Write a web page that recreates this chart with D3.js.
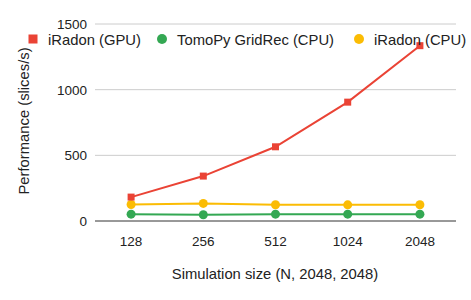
<!DOCTYPE html>
<html>
<head>
<meta charset="utf-8">
<script src="https://cdn.jsdelivr.net/npm/d3@7"></script>
<style>
  body { margin: 0; background: #fff; }
  text { font-family: "Liberation Sans", Arial, sans-serif; }
</style>
</head>
<body>
<svg id="chart" width="471" height="300"></svg>
<script>
// data
const sizes = ['128', '256', '512', '1024', '2048'];
const iradonGPU = [182, 342, 565, 905, 1335];
const tomopyCPU = [52, 48, 52, 52, 52];
const iradonCPU = [126, 134, 124, 123, 124];
const yTicks = [0, 500, 1000, 1500];

const series = [
  { name: 'iRadon (GPU)', values: iradonGPU, color: '#ea4335', shape: 'square' },
  { name: 'TomoPy GridRec (CPU)', values: tomopyCPU, color: '#34a853', shape: 'circle' },
  { name: 'iRadon (CPU)', values: iradonCPU, color: '#fbbc04', shape: 'circle' }
];

const svg = d3.select('#chart');
const plotL = 95, plotR = 456, plotT = 24, plotB = 221;

const x = d3.scaleBand().domain(sizes).range([plotL, plotR]);
const y = d3.scaleLinear().domain([0, 1500]).range([plotB, plotT]);

// gridlines
svg.append('g').selectAll('line')
  .data(yTicks.filter(d => d > 0)).enter()
  .append('line')
  .attr('x1', plotL).attr('x2', plotR)
  .attr('y1', d => y(d)).attr('y2', d => y(d))
  .attr('stroke', '#cccccc').attr('stroke-width', 1);

// y tick labels
svg.append('g').selectAll('text')
  .data(yTicks).enter()
  .append('text')
  .attr('x', 87).attr('y', d => y(d) + 5)
  .attr('text-anchor', 'end')
  .attr('font-size', 13.5).attr('fill', '#222')
  .text(d => d);

// baseline
svg.append('line')
  .attr('x1', plotL).attr('x2', plotR)
  .attr('y1', y(0)).attr('y2', y(0))
  .attr('stroke', '#333').attr('stroke-width', 1);

// x tick labels
svg.append('g').selectAll('text')
  .data(sizes).enter()
  .append('text')
  .attr('x', d => x(d) + x.bandwidth() / 2).attr('y', 246)
  .attr('text-anchor', 'middle')
  .attr('font-size', 13.5).attr('fill', '#222')
  .text(d => d);

const line = d3.line()
  .x((d, i) => x(sizes[i]) + x.bandwidth() / 2)
  .y(d => y(d));

// draw in reverse so red sits on top
series.slice().reverse().forEach(s => {
  const g = svg.append('g');
  g.append('path')
    .attr('d', line(s.values))
    .attr('fill', 'none')
    .attr('stroke', s.color)
    .attr('stroke-width', 2);
  if (s.shape === 'square') {
    g.selectAll('rect').data(s.values).enter()
      .append('rect')
      .attr('x', (d, i) => x(sizes[i]) + x.bandwidth() / 2 - 3.5)
      .attr('y', d => y(d) - 3.5)
      .attr('width', 7).attr('height', 7)
      .attr('fill', s.color);
  } else {
    g.selectAll('circle').data(s.values).enter()
      .append('circle')
      .attr('cx', (d, i) => x(sizes[i]) + x.bandwidth() / 2)
      .attr('cy', d => y(d))
      .attr('r', 4.5)
      .attr('fill', s.color);
  }
});

// legend
const legendX = [33, 162, 359];
series.forEach((s, i) => {
  const g = svg.append('g').attr('transform', `translate(${legendX[i]},39)`);
  if (s.shape === 'square') {
    g.append('rect').attr('x', -4.5).attr('y', -4.5).attr('width', 9).attr('height', 9).attr('fill', s.color);
  } else {
    g.append('circle').attr('r', 5).attr('fill', s.color);
  }
  g.append('text')
    .attr('x', 15).attr('y', 5.5)
    .attr('font-size', 14.8).attr('fill', '#222')
    .text(s.name);
});

// axis titles
svg.append('text')
  .attr('transform', 'translate(29,121) rotate(-90)')
  .attr('text-anchor', 'middle')
  .attr('font-size', 14.8).attr('fill', '#222')
  .text('Performance (slices/s)');

svg.append('text')
  .attr('x', 275).attr('y', 279)
  .attr('text-anchor', 'middle')
  .attr('font-size', 14.8).attr('fill', '#222')
  .text('Simulation size (N, 2048, 2048)');
</script>
</body>
</html>
